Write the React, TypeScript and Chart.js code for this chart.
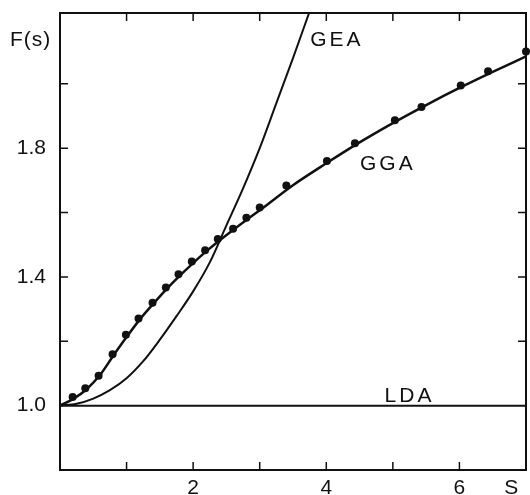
import React, { useEffect, useRef } from "react";
import { Chart, registerables } from "chart.js";

Chart.register(...registerables);

// GGA smooth curve (s, F)
const ggaLineS = [0, 0.2, 0.4, 0.6, 0.8, 1.0, 1.2, 1.4, 1.6, 1.8, 2.0, 2.2, 2.4, 2.6, 2.8, 3.0, 3.5, 4.0, 4.5, 5.0, 5.5, 6.0, 6.5, 7.0];
const ggaLineF = [1.0, 1.021, 1.051, 1.095, 1.155, 1.213, 1.268, 1.316, 1.362, 1.404, 1.443, 1.48, 1.514, 1.546, 1.577, 1.607, 1.685, 1.753, 1.818, 1.878, 1.934, 1.987, 2.037, 2.085];

// GGA computed points (dots)
const ggaDotS = [0.19, 0.38, 0.58, 0.79, 0.99, 1.18, 1.39, 1.59, 1.78, 1.98, 2.18, 2.37, 2.6, 2.8, 3.0, 3.4, 4.01, 4.43, 5.03, 5.43, 6.02, 6.43, 7.0];
const ggaDotF = [1.027, 1.054, 1.093, 1.16, 1.22, 1.271, 1.32, 1.367, 1.408, 1.448, 1.483, 1.518, 1.55, 1.584, 1.616, 1.684, 1.76, 1.815, 1.887, 1.928, 1.995, 2.039, 2.1];

// GEA curve
const geaS = [0, 0.25, 0.5, 0.75, 1.0, 1.25, 1.5, 1.75, 2.0, 2.25, 2.5, 2.75, 3.0, 3.25, 3.5, 3.75, 4.0];
const geaF = [1.0, 1.006, 1.022, 1.048, 1.085, 1.138, 1.205, 1.278, 1.355, 1.445, 1.56, 1.675, 1.8, 1.94, 2.08, 2.225, 2.37];

// LDA
const ldaS = [0, 7];
const ldaF = [1.0, 1.0];

// Axis ticks and labels
const xTickMarks = [1, 2, 3, 4, 5, 6];
const yTickMarks = [1.2, 1.4, 1.6, 1.8, 2.0];
const xLabelValues = [2, 4, 6, 6.78];
const xLabelTexts = ["2", "4", "6", "S"];
const yLabelValues = [1.0, 1.4, 1.8];
const yLabelTexts = ["1.0", "1.4", "1.8"];

// Curve names with anchor (s, F)
const curveNames = ["GEA", "GGA", "LDA"];
const curveNameS = [4.16, 4.925, 5.25];
const curveNameF = [2.1175, 1.733, 1.0112];

const FONT = "'Liberation Sans', Arial, sans-serif";
const INK = "#111";

const pts = (xs: number[], ys: number[]) => xs.map((x, i) => ({ x, y: ys[i] }));

const decor = {
  id: "decor",
  afterDraw(chart: any) {
    const { ctx, chartArea: a, scales } = chart;
    const xs = scales.x;
    const ys = scales.y;
    ctx.save();
    ctx.strokeStyle = INK;
    ctx.lineWidth = 2;
    ctx.strokeRect(a.left, a.top, a.right - a.left, a.bottom - a.top);
    ctx.lineWidth = 1.5;
    const L = 8;
    ctx.beginPath();
    xTickMarks.forEach((v) => {
      const px = xs.getPixelForValue(v);
      ctx.moveTo(px, a.bottom);
      ctx.lineTo(px, a.bottom - L);
      ctx.moveTo(px, a.top);
      ctx.lineTo(px, a.top + L);
    });
    yTickMarks.forEach((v) => {
      const py = ys.getPixelForValue(v);
      ctx.moveTo(a.left, py);
      ctx.lineTo(a.left + L, py);
      ctx.moveTo(a.right, py);
      ctx.lineTo(a.right - L, py);
    });
    ctx.stroke();

    ctx.fillStyle = INK;
    ctx.font = `21px ${FONT}`;
    ctx.textBaseline = "alphabetic";
    ctx.textAlign = "center";
    try { ctx.letterSpacing = "3px"; } catch (e) {}
    curveNames.forEach((t, i) => {
      ctx.fillText(t, xs.getPixelForValue(curveNameS[i]), ys.getPixelForValue(curveNameF[i]));
    });
    try { ctx.letterSpacing = "1px"; } catch (e) {}
    ctx.textAlign = "left";
    ctx.fillText("F(s)", 10, 46);
    ctx.restore();
  },
};

export default function App() {
  const ref = useRef<HTMLCanvasElement>(null);
  useEffect(() => {
    const chart = new Chart(ref.current as HTMLCanvasElement, {
      type: "scatter",
      data: {
        datasets: [
          {
            label: "LDA",
            data: pts(ldaS, ldaF),
            showLine: true,
            borderColor: INK,
            borderWidth: 2,
            pointRadius: 0,
          },
          {
            label: "GEA",
            data: pts(geaS, geaF),
            showLine: true,
            borderColor: INK,
            borderWidth: 2,
            pointRadius: 0,
            cubicInterpolationMode: "monotone",
          },
          {
            label: "GGA",
            data: pts(ggaLineS, ggaLineF),
            showLine: true,
            borderColor: INK,
            borderWidth: 2.5,
            pointRadius: 0,
            cubicInterpolationMode: "monotone",
          },
          {
            label: "GGA points",
            data: pts(ggaDotS, ggaDotF),
            showLine: false,
            backgroundColor: INK,
            borderColor: INK,
            pointRadius: 4,
            pointBorderWidth: 0,
            clip: false,
          } as any,
        ],
      },
      options: {
        responsive: false,
        devicePixelRatio: 1,
        animation: false,
        layout: { padding: { top: 13, right: 2, left: 0, bottom: 0 } },
        plugins: { legend: { display: false }, tooltip: { enabled: false } },
        scales: {
          x: {
            type: "linear",
            min: 0,
            max: 7,
            grid: { display: false, drawTicks: false },
            border: { display: false },
            afterBuildTicks: (s: any) => {
              s.ticks = xLabelValues.map((v) => ({ value: v }));
            },
            afterFit: (s: any) => {
              s.height = 25;
              s.paddingLeft = 0;
              s.paddingRight = 0;
            },
            ticks: {
              padding: 6,
              color: INK,
              font: { family: FONT, size: 21 },
              maxRotation: 0,
              autoSkip: false,
              callback: (_v: any, i: number) => xLabelTexts[i],
            },
          },
          y: {
            type: "linear",
            min: 0.8,
            max: 2.22,
            grid: { display: false, drawTicks: false },
            border: { display: false },
            afterBuildTicks: (s: any) => {
              s.ticks = yLabelValues.map((v) => ({ value: v }));
            },
            afterFit: (s: any) => {
              s.width = 60;
              s.paddingTop = 0;
              s.paddingBottom = 0;
            },
            ticks: {
              padding: 14,
              color: INK,
              font: { family: FONT, size: 21 },
              autoSkip: false,
              callback: (_v: any, i: number) => yLabelTexts[i],
            },
          },
        },
      },
      plugins: [decor],
    } as any);
    return () => chart.destroy();
  }, []);
  return (
    <div style={{ position: "absolute", left: 0, top: 0, width: 530, height: 495, background: "#fff" }}>
      <canvas ref={ref} width={530} height={495} style={{ display: "block", width: 530, height: 495 }} />
    </div>
  );
}
